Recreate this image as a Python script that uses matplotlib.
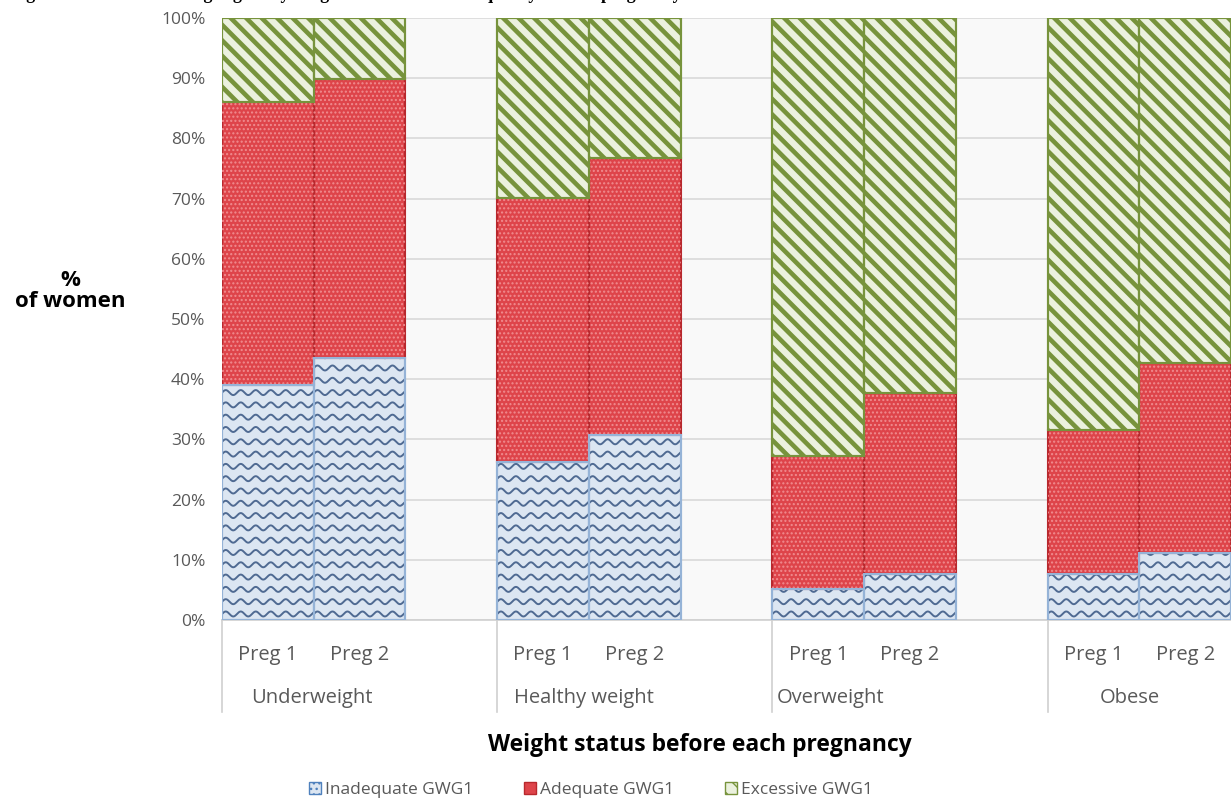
"""Stacked bars: GWG adequacy in first pregnancy by weight status before each pregnancy"""
import numpy as np
import matplotlib
matplotlib.use("Agg")
import matplotlib.pyplot as plt
from matplotlib.patches import Patch

# ---- data ----
groups = ["Underweight", "Healthy weight", "Overweight", "Obese"]
preg_labels = ["Preg 1", "Preg 2"]
inadequate = [39.0, 43.5, 26.2, 30.7, 5.2, 7.7, 7.6, 11.1]
adequate = [47.0, 46.3, 43.9, 46.0, 22.1, 30.0, 24.0, 31.6]
excessive = [100 - a - b for a, b in zip(inadequate, adequate)]
y_ticks = list(range(0, 101, 10))
series_names = ["Inadequate GWG1", "Adequate GWG1", "Excessive GWG1"]

# ---- styling ----
GREY_TXT = "#595959"
BLUE_FACE, BLUE_EDGE, BLUE_WAVE = "#dce6f2", "#95b3d7", "#4f6a92"
RED_FACE, RED_EDGE, RED_DOT = "#de444a", "#b8282d", "#f08c8f"
GREEN_FACE, GREEN_EDGE = "#ebf1de", "#77933c"
FONT = ["Open Sans", "DejaVu Sans"]

plt.rcParams["font.family"] = FONT
plt.rcParams["hatch.linewidth"] = 1.0

W, H = 1231, 807
fig = plt.figure(figsize=(W / 100, H / 100), dpi=100)
ax_l, ax_b, ax_w, ax_h = 222, 620, W - 222, 620 - 18   # pixels
ax = fig.add_axes([ax_l / W, 1 - ax_b / H, ax_w / W, ax_h / H])
ax.set_facecolor("#f9f9f9")

N_SLOTS = 11
# two bars per group, one empty slot between groups
x_pos = []
for g in range(len(groups)):
    x_pos += [g * 3 + 0.5, g * 3 + 1.5]
x_pos = np.array(x_pos)

inad = np.array(inadequate)
adeq = np.array(adequate)
exc = np.array(excessive)

blue_bars = ax.bar(x_pos, inad, width=1.0, color=BLUE_FACE, edgecolor=BLUE_EDGE,
                   linewidth=1.5, zorder=3)
red_bars = ax.bar(x_pos, adeq, bottom=inad, width=1.0, color=RED_FACE,
                  edgecolor=RED_EDGE, linewidth=1.5, zorder=3)
# light checker texture on red segments
ax.bar(x_pos, adeq, bottom=inad, width=1.0, color="none", edgecolor=RED_DOT,
       linewidth=0, hatch="....", zorder=3.2)
green_bars = ax.bar(x_pos, exc, bottom=inad + adeq, width=1.0, color=GREEN_FACE,
                    edgecolor=GREEN_EDGE, linewidth=1.5, zorder=3)

# pixel scale of the data units
px_per_slot = ax_w / N_SLOTS
px_per_pct = ax_h / 100.0

# wavy texture inside the blue segments (clipped to each bar)
wx = np.linspace(-0.1, 1.1, 400)
for bar in blue_bars:
    x0 = bar.get_x()
    h = bar.get_height()
    for yy in np.arange(1.0, h + 2.0, 12.3 / px_per_pct):
        ln, = ax.plot(x0 + wx, yy + (2.5 / px_per_pct) * np.sin(2 * np.pi * wx / (15 / px_per_slot)),
                      color=BLUE_WAVE, lw=1.4, zorder=3.5)
        ln.set_clip_path(bar)
    ax.bar(x0 + 0.5, h, width=1.0, color="none", edgecolor=BLUE_EDGE,
           linewidth=1.5, zorder=4)

# diagonal stripes inside the green segments
slope = -px_per_slot / px_per_pct          # 45 degrees on screen
step = 15.5 / px_per_slot * -slope         # vertical offset between stripes
sx = np.array([-0.05, 1.05])
for bar in green_bars:
    x0, y0, h = bar.get_x(), bar.get_y(), bar.get_height()
    for c in np.arange(y0 - step, y0 + h - slope * 1.1 + step, step):
        ln, = ax.plot(x0 + sx, c + slope * sx, color=GREEN_EDGE, lw=3.3,
                      solid_capstyle="butt", zorder=3.5)
        ln.set_clip_path(bar)
    ax.bar(x0 + 0.5, h, bottom=y0, width=1.0, color="none", edgecolor=GREEN_EDGE,
           linewidth=1.5, zorder=4)

ax.set_xlim(0, N_SLOTS)
ax.set_ylim(0, 100)
ax.set_yticks(y_ticks)
ax.set_yticklabels([f"{t}%" for t in y_ticks], color=GREY_TXT, fontsize=12.5)
ax.tick_params(axis="y", length=0, pad=12)
ax.set_xticks([])
ax.grid(axis="y", color="#d9d9d9", linewidth=1.2, zorder=0)
for s in ["top", "right", "left"]:
    ax.spines[s].set_visible(False)
ax.spines["bottom"].set_color("#d0d0d0")
ax.spines["bottom"].set_linewidth(1.2)

# multi-level category axis
for i, xp in enumerate(x_pos):
    ax.text(xp, -(655 - ax_b) / px_per_pct, preg_labels[i % 2], ha="center", va="center",
            fontsize=14.5, color=GREY_TXT, clip_on=False)
group_label_x = [0.98, 3.95, 6.63, 9.9]
for gx, name in zip(group_label_x, groups):
    ax.text(gx, -(698 - ax_b) / px_per_pct, name, ha="center", va="center",
            fontsize=14.5, color=GREY_TXT, clip_on=False)
for g in range(len(groups)):
    ax.plot([g * 3, g * 3], [0, -(712 - ax_b) / px_per_pct], color="#d0d0d0",
            lw=1.2, clip_on=False)

# axis titles
fig.text(700 / W, 1 - 745 / H, "Weight status before each pregnancy",
         ha="center", va="center", fontsize=16.5, fontweight="bold", color="black")
fig.text(70 / W, 1 - 281 / H, "%", ha="center", va="center",
         fontsize=16, fontweight="bold", color="black")
fig.text(70 / W, 1 - 302 / H, "of women", ha="center", va="center",
         fontsize=16, fontweight="bold", color="black")

# figure caption, cut off at the top edge in the original
fig.text(10 / W, 1 + 1 / H,
         "Figure 2: Gestational weight gain by weight status and GWG quality in each pregnancy",
         ha="left", va="baseline", fontsize=13, fontweight="bold",
         family=["Liberation Serif", "DejaVu Serif"], color="black")

# legend
handles = [
    Patch(facecolor=BLUE_FACE, edgecolor="#4f81bd", hatch="...", linewidth=1),
    Patch(facecolor=RED_FACE, edgecolor=RED_EDGE, linewidth=1),
    Patch(facecolor=GREEN_FACE, edgecolor=GREEN_EDGE, hatch="\\\\", linewidth=1),
]
fig.legend(handles, series_names, loc="center", bbox_to_anchor=(591 / W, 1 - 790 / H),
           ncol=3, frameon=False, fontsize=12.5, handlelength=0.7, handleheight=0.7,
           handletextpad=0.25, columnspacing=2.9, labelcolor=GREY_TXT)

fig.savefig("out.png", dpi=100, facecolor="white")
